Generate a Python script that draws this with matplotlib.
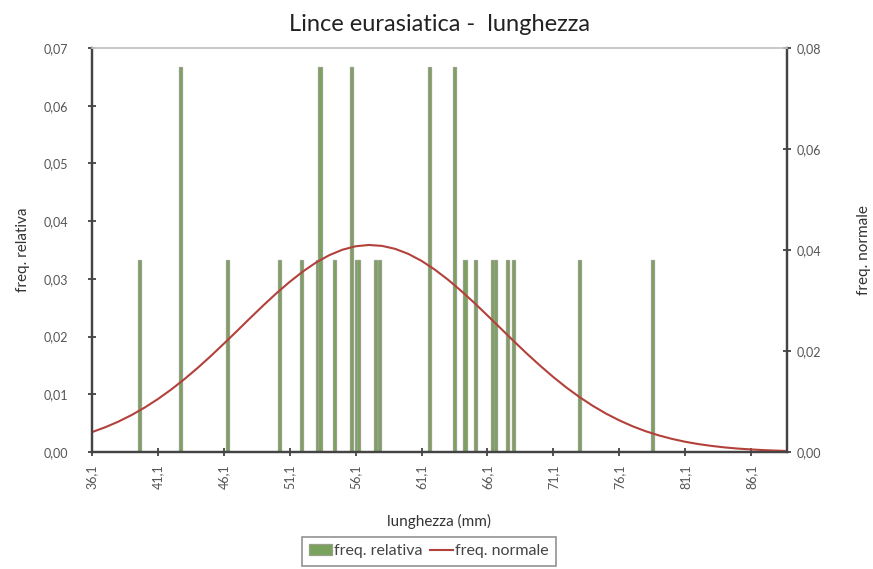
import matplotlib
matplotlib.use("Agg")
import matplotlib.pyplot as plt
from matplotlib.ticker import FuncFormatter, FixedLocator

plt.rcParams['font.family'] = ['Lato', 'DejaVu Sans']

# lunghezze osservate (mm) e relativa frequenza
lengths = [39.7, 42.8, 46.4, 50.3, 52.0, 53.2, 53.4, 54.5, 55.8, 56.2, 56.3,
           57.6, 57.9, 61.7, 63.6, 64.4, 65.2, 66.5, 66.7, 67.6, 68.1, 73.1, 78.6]
rel_freq = [0.0333, 0.0667, 0.0333, 0.0333, 0.0333, 0.0333, 0.0667, 0.0333, 0.0667, 0.0333, 0.0333,
            0.0333, 0.0333, 0.0667, 0.0667, 0.0333, 0.0333, 0.0333, 0.0333, 0.0333, 0.0333, 0.0333, 0.0333]

# curva normale (asse secondario)
norm_x = [36.1, 37.1, 38.1, 39.1, 40.1, 41.1, 42.1, 43.1, 44.1, 45.1, 46.1, 47.1, 48.1, 49.1,
          50.1, 51.1, 52.1, 53.1, 54.1, 55.1, 56.1, 57.1, 58.1, 59.1, 60.1, 61.1, 62.1, 63.1,
          64.1, 65.1, 66.1, 67.1, 68.1, 69.1, 70.1, 71.1, 72.1, 73.1, 74.1, 75.1, 76.1, 77.1,
          78.1, 79.1, 80.1, 81.1, 82.1, 83.1, 84.1, 85.1, 86.1, 87.1, 88.1, 88.8]
norm_y = [0.00394, 0.00490, 0.00602, 0.00732, 0.00881, 0.01049, 0.01236, 0.01441, 0.01662,
          0.01898, 0.02145, 0.02397, 0.02653, 0.02904, 0.03146, 0.03370, 0.03575, 0.03753,
          0.03898, 0.04006, 0.04074, 0.04100, 0.04082, 0.04023, 0.03923, 0.03785, 0.03613,
          0.03414, 0.03192, 0.02954, 0.02704, 0.02450, 0.02195, 0.01946, 0.01709, 0.01484,
          0.01275, 0.01085, 0.00913, 0.00760, 0.00627, 0.00511, 0.00412, 0.00329, 0.00260,
          0.00203, 0.00157, 0.00121, 0.00091, 0.00068, 0.00051, 0.00037, 0.00027, 0.00020]

x_ticks = [36.1, 41.1, 46.1, 51.1, 56.1, 61.1, 66.1, 71.1, 76.1, 81.1, 86.1]

comma = FuncFormatter(lambda v, pos: f"{v:.2f}".replace('.', ','))
comma1 = FuncFormatter(lambda v, pos: f"{v:.1f}".replace('.', ','))

fig = plt.figure(figsize=(8.73, 5.69), dpi=100)
ax = fig.add_axes([0.1054, 0.2056, 0.7957, 0.71])
ax2 = ax.twinx()

bars = ax.bar(lengths, rel_freq, width=0.25, color='#79a25c', edgecolor='#98a08a',
              linewidth=0.9, label='freq. relativa', zorder=2)
line, = ax2.plot(norm_x, norm_y, color='#b3413b', linewidth=1.5, label='freq. normale')

ax.set_xlim(36.1, 88.8)
ax.set_ylim(0, 0.07)
ax2.set_ylim(0, 0.08)

ax.set_yticks([0, 0.01, 0.02, 0.03, 0.04, 0.05, 0.06, 0.07])
ax2.set_yticks([0, 0.02, 0.04, 0.06, 0.08])
ax.xaxis.set_major_locator(FixedLocator(x_ticks))
ax.yaxis.set_major_formatter(comma)
ax2.yaxis.set_major_formatter(comma)
ax.xaxis.set_major_formatter(comma1)

for a in (ax, ax2):
    a.tick_params(direction='inout', length=6, width=1.2, color='#333333',
                  labelsize=9, labelcolor='#555555')
    for s in a.spines.values():
        s.set_color('#444444')
        s.set_linewidth(1.6)
    a.spines['top'].set_color('#c8c8c8')
    a.spines['top'].set_linewidth(1.2)
ax.tick_params(axis='x', labelrotation=90, pad=6)
ax.tick_params(axis='y', pad=14)
ax2.tick_params(axis='y', pad=4)

ax.set_title("Lince eurasiatica -  lunghezza", fontsize=17, color='#222222', pad=12)
ax.set_xlabel("lunghezza (mm)", fontsize=11, color='#333333', labelpad=18)
ax.set_ylabel("freq. relativa", fontsize=11, color='#333333', labelpad=10)
ax2.set_ylabel("freq. normale", fontsize=11, color='#333333', labelpad=26)

leg = fig.legend([bars, line], ['freq. relativa', 'freq. normale'], loc='upper center',
                 bbox_to_anchor=(429 / 873, 1 - 537 / 569), ncol=2, fontsize=11.5,
                 frameon=True, fancybox=False, edgecolor='#777777', handlelength=1.4,
                 handletextpad=0.15, columnspacing=0.5, borderpad=0.45, borderaxespad=0)
leg.get_frame().set_linewidth(1.2)
for t in leg.get_texts():
    t.set_color('#444444')

fig.savefig("out.png", dpi=100)
